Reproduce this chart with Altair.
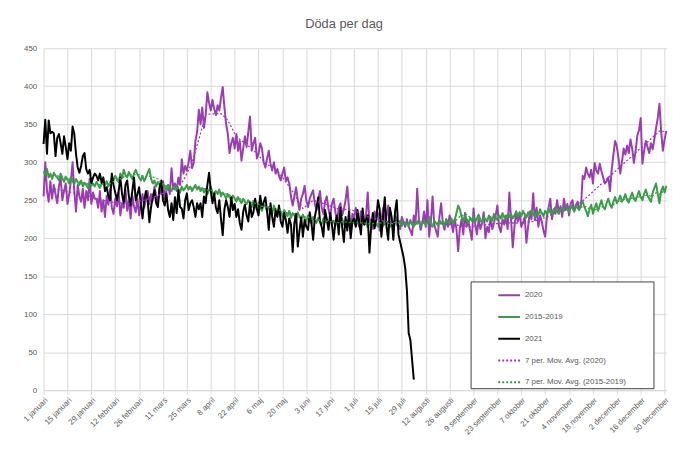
import altair as alt
import pandas as pd

tick_labels = ["1 januari", "15 januari", "29 januari", "12 februari", "26 februari", "11 mars",
               "25 mars", "8 april", "22 april", "6 maj", "20 maj", "3 juni", "17 juni", "1 juli",
               "15 juli", "29 juli", "12 augusti", "26 augusti", "9 september", "23 september",
               "7 oktober", "21 oktober", "4 november", "18 november", "2 december",
               "16 december", "30 december"]

# ---- 2020 daily deaths ----
jan20 = [255, 300, 262, 248, 275, 252, 270, 258, 246, 268, 280, 250, 262, 272, 245, 258, 275, 300, 262, 235, 270, 255, 248, 265, 240, 262, 250, 278, 245, 260, 252]
feb20 = [252, 240, 262, 235, 250, 228, 256, 244, 265, 240, 232, 252, 242, 260, 230, 246, 240, 264, 236, 250, 226, 256, 242, 234, 252, 230, 246, 258, 240]
mar20 = [252, 262, 245, 258, 250, 268, 255, 248, 265, 258, 275, 252, 262, 270, 258, 292, 265, 272, 262, 280, 270, 304, 285, 295, 289, 300, 315, 292, 299, 328, 340]
apr20 = [369, 350, 372, 345, 362, 392, 378, 368, 382, 370, 362, 375, 368, 385, 399, 372, 350, 337, 312, 325, 332, 318, 337, 315, 328, 302, 318, 334, 320, 340]
may20 = [360, 315, 325, 332, 305, 311, 325, 318, 300, 293, 305, 315, 298, 289, 300, 285, 291, 282, 276, 285, 293, 275, 280, 272, 255, 243, 255, 267, 250, 237, 252]
jun20 = [258, 269, 250, 241, 252, 258, 263, 245, 237, 250, 262, 240, 232, 248, 255, 238, 228, 245, 252, 235, 222, 240, 246, 230, 238, 250, 268, 240, 205, 232]
jul20 = [228, 240, 222, 215, 235, 228, 218, 230, 260, 219, 225, 212, 235, 228, 233, 210, 222, 240, 218, 228, 243, 215, 222, 208, 230, 225, 217, 212, 228, 220, 215]
aug20 = [225, 215, 210, 204, 230, 218, 265, 225, 211, 220, 235, 215, 250, 202, 222, 255, 218, 210, 202, 228, 246, 220, 211, 225, 215, 230, 221, 208, 225, 212, 183]
sep20 = [213, 225, 205, 233, 215, 222, 210, 198, 239, 218, 205, 225, 212, 220, 234, 200, 215, 208, 228, 212, 220, 230, 243, 215, 208, 225, 218, 230, 212, 260]
oct20 = [225, 188, 215, 235, 222, 234, 215, 220, 228, 194, 215, 235, 225, 259, 224, 240, 215, 230, 222, 210, 202, 228, 240, 252, 225, 238, 232, 250, 233, 242, 228]
nov20 = [252, 237, 245, 230, 246, 250, 235, 241, 248, 239, 242, 282, 278, 293, 285, 280, 290, 272, 299, 289, 285, 298, 288, 280, 272, 275, 280, 262, 290, 310]
dec20 = [328, 321, 305, 285, 300, 318, 310, 322, 312, 330, 318, 299, 315, 335, 342, 358, 298, 315, 328, 320, 312, 325, 317, 330, 345, 358, 377, 340, 315, 330, 341]

# ---- 2015-2019 average daily deaths ----
jan_avg = [288, 283, 291, 280, 285, 278, 286, 282, 280, 276, 285, 279, 274, 281, 277, 272, 280, 275, 271, 278, 274, 270, 276, 268, 273, 270, 266, 274, 269, 272, 268]
feb_avg = [274, 270, 266, 272, 278, 270, 275, 268, 273, 280, 276, 282, 278, 274, 285, 279, 290, 283, 280, 287, 282, 278, 285, 290, 284, 280, 276, 282, 275]
mar_avg = [280, 286, 291, 278, 272, 276, 268, 274, 270, 265, 272, 268, 263, 270, 266, 262, 268, 264, 270, 265, 260, 268, 263, 266, 270, 264, 268, 262, 266, 270, 264]
apr_avg = [268, 262, 266, 260, 265, 258, 263, 268, 260, 256, 262, 258, 264, 255, 260, 257, 252, 258, 254, 250, 256, 252, 248, 254, 250, 246, 252, 248, 245, 250]
may_avg = [246, 241, 249, 243, 238, 247, 240, 236, 244, 242, 235, 241, 239, 232, 243, 236, 231, 239, 235, 228, 237, 233, 229, 236, 227, 233, 230, 224, 234, 228, 225]
jun_avg = [231, 226, 222, 230, 225, 219, 228, 224, 220, 227, 222, 218, 226, 221, 224, 217, 225, 220, 223, 216, 224, 219, 222, 226, 218, 223, 220, 216, 224, 219]
jul_avg = [222, 217, 225, 219, 215, 223, 218, 221, 214, 222, 217, 220, 226, 218, 215, 223, 219, 216, 224, 218, 222, 215, 221, 219, 225, 217, 220, 223, 216, 222, 218]
aug_avg = [221, 216, 224, 218, 215, 222, 219, 225, 216, 220, 223, 217, 221, 228, 218, 215, 223, 220, 217, 224, 219, 222, 216, 225, 221, 218, 226, 220, 224, 233, 243]
sep_avg = [238, 228, 222, 230, 225, 220, 227, 223, 229, 221, 226, 231, 224, 220, 228, 225, 222, 230, 226, 223, 232, 227, 224, 230, 226, 233, 228, 225, 231, 228]
oct_avg = [232, 226, 230, 235, 228, 233, 229, 236, 231, 227, 234, 230, 237, 232, 228, 235, 231, 238, 233, 229, 236, 232, 239, 234, 230, 237, 241, 235, 232, 238, 240]
nov_avg = [236, 242, 238, 235, 243, 239, 236, 244, 240, 237, 245, 248, 241, 236, 229, 238, 244, 232, 240, 246, 236, 243, 250, 241, 238, 246, 252, 244, 240, 248]
dec_avg = [254, 246, 250, 256, 248, 252, 258, 250, 247, 254, 260, 252, 249, 256, 262, 254, 250, 258, 264, 256, 252, 248, 260, 266, 272, 258, 246, 262, 268, 260, 269]

# ---- 2021 daily deaths (reported so far) ----
jan21 = [324, 356, 311, 355, 338, 340, 338, 308, 332, 337, 325, 311, 334, 320, 304, 325, 315, 347, 337, 311, 293, 286, 295, 308, 312, 291, 285, 290, 272, 280, 285]
feb21 = [282, 276, 285, 273, 280, 262, 267, 255, 250, 285, 270, 260, 250, 262, 280, 258, 246, 270, 276, 255, 243, 262, 280, 250, 258, 267, 245, 226, 250]
mar21 = [262, 250, 221, 241, 254, 263, 246, 241, 267, 276, 250, 243, 259, 237, 228, 246, 224, 254, 233, 263, 241, 239, 226, 250, 259, 237, 246, 250, 241, 228, 246]
apr21 = [238, 246, 228, 255, 246, 270, 286, 262, 246, 259, 240, 233, 250, 225, 204, 238, 250, 241, 228, 254, 237, 245, 228, 238, 220, 211, 235, 244, 230, 222]
may21 = [247, 228, 234, 252, 238, 230, 256, 240, 247, 254, 235, 211, 246, 228, 215, 238, 228, 243, 222, 215, 233, 224, 207, 226, 218, 182, 220, 232, 189, 210, 228]
jun21 = [202, 224, 215, 211, 234, 220, 198, 228, 240, 254, 222, 215, 202, 237, 225, 211, 233, 218, 198, 221, 230, 205, 240, 215, 195, 228, 210, 235, 200, 222]
jul21 = [226, 215, 237, 221, 205, 239, 218, 224, 230, 181, 215, 233, 213, 225, 250, 238, 202, 228, 254, 215, 198, 240, 228, 198, 235, 250, 205, 195, 185, 175, 160]
aug21 = [130, 75, 66, 40, 14]

# ---- 7 per. moving average (2020) as drawn, read at knots ----
ma20_days = [6, 13, 20, 27, 34, 41, 48, 55, 62, 69, 76, 82, 87, 92, 95, 104, 108, 112, 114, 122,
             131, 137, 145, 152, 158, 165, 172, 181, 190, 200, 210, 220, 230, 240, 250, 260, 270,
             279, 287, 295, 303, 315, 361, 365]
ma20_vals = [265, 262, 258, 255, 250, 247, 246, 248, 252, 258, 265, 276, 299, 338, 363, 364, 355, 338, 332, 318,
             297, 289, 265, 239, 250, 245, 239, 237, 228, 222, 220, 222, 220, 218, 215, 218, 220,
             220, 222, 228, 237, 247, 341, 340]

s2020 = jan20 + feb20 + mar20 + apr20 + may20 + jun20 + jul20 + aug20 + sep20 + oct20 + nov20 + dec20
savg = jan_avg + feb_avg + mar_avg + apr_avg + may_avg + jun_avg + jul_avg + aug_avg + sep_avg + oct_avg + nov_avg + dec_avg
s2021 = jan21 + feb21 + mar21 + apr21 + may21 + jun21 + jul21 + aug21
assert len(s2020) == 366 and len(savg) == 366, (len(s2020), len(savg))
assert len(ma20_days) == len(ma20_vals)

names = ["2020", "2015-2019", "2021", "7 per. Mov. Avg. (2020)", "7 per. Mov. Avg. (2015-2019)"]
colors = ["#9a3db3", "#3c9c4a", "#000000", "#9a3db3", "#3c9c4a"]
dashes = [[1, 0], [1, 0], [1, 0], [2, 2], [2, 2]]

rows = []
for name, ser in (("2020", s2020), ("2015-2019", savg), ("2021", s2021)):
    for d, v in enumerate(ser):
        rows.append({"day": d, "value": v, "series": name})
df = pd.DataFrame(rows)
df_ma20 = pd.DataFrame({"day": ma20_days, "value": ma20_vals, "series": names[3]})

FONT = "Liberation Sans"
GRID = "#d9d9d9"
TXT = "#595959"

label_expr = "[" + ",".join("'" + t + "'" for t in tick_labels) + "][round(datum.value / 14)]"

x_enc = alt.X("day:Q", scale=alt.Scale(domain=[0, 365], nice=False, zero=False),
              axis=alt.Axis(values=list(range(0, 365, 14)), labelExpr=label_expr, labelAngle=-45,
                            labelOverlap=False, labelBound=False,
                            title=None, grid=True, gridColor=GRID, domainColor=GRID, tickColor=GRID,
                            tickSize=4, labelFontSize=8, labelColor=TXT, labelPadding=2,
                            labelFont=FONT))
y_enc = alt.Y("value:Q", scale=alt.Scale(domain=[0, 450], nice=False),
              axis=alt.Axis(values=list(range(0, 451, 50)), title=None, domain=False, ticks=False,
                            grid=True, gridColor=GRID, labelFontSize=8, labelColor=TXT,
                            labelPadding=7, labelFont=FONT))
leg = alt.Legend(title="MMM", titleOpacity=0, titleOrient="right", titleFontSize=8, titlePadding=5)
color_enc = alt.Color("series:N", scale=alt.Scale(domain=names, range=colors), legend=leg)
dash_enc = alt.StrokeDash("series:N", scale=alt.Scale(domain=names, range=dashes), legend=leg)


def line(chart, width):
    return chart.mark_line(strokeWidth=width, strokeJoin="round").encode(
        x=x_enc, y=y_enc, color=color_enc, strokeDash=dash_enc)


l2020 = line(alt.Chart(df).transform_filter("datum.series == '2020'"), 2)
lavg = line(alt.Chart(df).transform_filter("datum.series == '2015-2019'"), 2)
l2021 = line(alt.Chart(df).transform_filter("datum.series == '2021'"), 2)
lma20 = line(alt.Chart(df_ma20), 1.3)
lmaavg = line(
    alt.Chart(df)
    .transform_filter("datum.series == '2015-2019'")
    .transform_window(ma="mean(value)", frame=[-6, 0], sort=[alt.SortField("day")])
    .transform_filter("datum.day >= 6")
    .transform_calculate(value="datum.ma", series="'" + names[4] + "'"),
    1.3)

chart = (
    alt.layer(l2020, lavg, l2021, lma20, lmaavg)
    .properties(
        width=630, height=346,
        title=alt.Title("Döda per dag", fontSize=13, color=TXT, font=FONT, fontWeight="normal",
                        offset=13, dx=-11),
        autosize=alt.AutoSizeParams(type="none"),
        padding={"left": 36, "top": 38, "right": 26, "bottom": 70},
    )
    .configure_view(stroke=None)
    .configure_legend(orient="none", legendX=432, legendY=236, direction="vertical",
                      strokeColor="#404040", fillColor="white", padding=2,
                      symbolType="stroke", symbolSize=484, symbolStrokeWidth=2, symbolOffset=25,
                      labelFontSize=8, labelColor=TXT, labelFont=FONT, rowPadding=6)
)

chart.save("out.html", embed_options={"renderer": "svg", "actions": False})
